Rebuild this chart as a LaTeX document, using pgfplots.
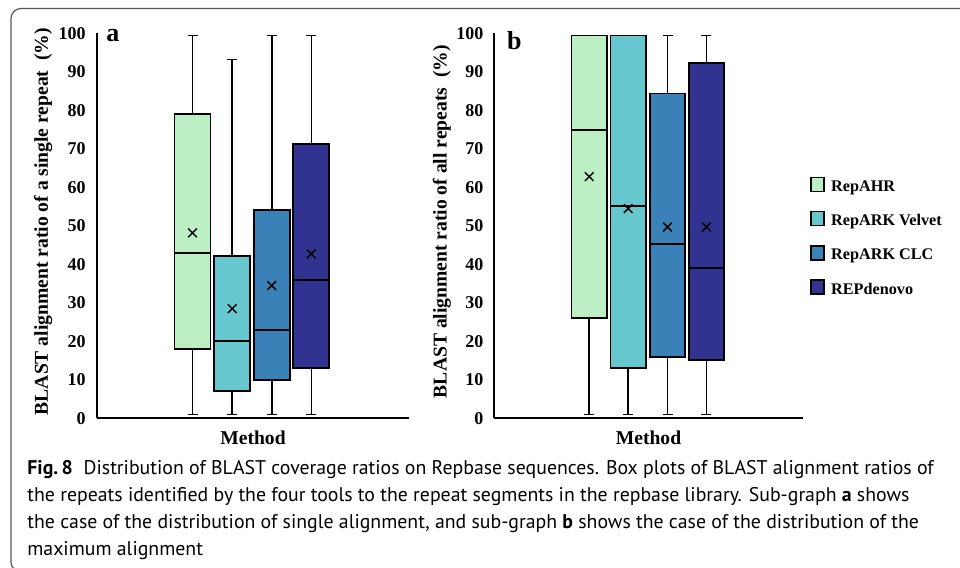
\documentclass[border=0pt]{standalone}
\usepackage{fontspec}
\setmainfont{Liberation Serif}
\newfontfamily\capfont{PT Sans}
\usepackage{pgfplots}
\pgfplotsset{compat=1.18}
\definecolor{cahr}{HTML}{BCF0C4}
\definecolor{cvel}{HTML}{66C8CE}
\definecolor{cclc}{HTML}{3A81B8}
\definecolor{cden}{HTML}{323291}

\pgfplotsset{
  boxpanel/.style={
    scale only axis, height=192.4pt, ymin=0, ymax=100,
    axis x line*=bottom, axis y line*=left,
    axis line style={line width=1pt, black},
    xtick=\empty, ytick={0,10,...,100}, major tick length=0pt,
    /pgf/number format/assume math mode=true,
    tick label style={font=\bfseries\fontsize{9}{9}\selectfont},
    yticklabel style={anchor=east, inner sep=0pt, xshift=-5.3pt},
    label style={font=\bfseries\fontsize{9.8}{10}\selectfont},
    xlabel style={at={(axis description cs:0.5,0)}, anchor=base, yshift=-13.3pt, inner sep=0pt},
    ylabel style={anchor=center, inner sep=0pt},
    xlabel={Method},
    clip=false,
  },
  box/.style={fill=#1, draw=black, line width=0.9pt, forget plot},
  wsk/.style={draw=black, line width=0.8pt, unbounded coords=jump, forget plot},
  med/.style={draw=black, line width=1pt, unbounded coords=jump, forget plot},
  avg/.style={only marks, mark=x, mark size=3.1pt, black, mark options={line width=0.75pt}, forget plot},
}

% page is 480pt x 284pt; one pixel of the 960x568 reference is 0.5pt
\begin{document}
\begin{tikzpicture}
\useasboundingbox (0,0) rectangle (480pt,284pt);
\draw[line width=0.6pt, black!65, rounded corners=5pt] (500pt,279.75pt) -- (5.5pt,279.75pt) -- (5.5pt,-2pt) -- (500pt,-2pt);

% panel a: single alignment (x in reference pixels, boxes 36 wide)
\begin{axis}[boxpanel, at={(48.35pt,74.85pt)}, anchor=south west,
  width=156.3pt, xmin=96.7, xmax=409.3,
  ylabel={BLAST alignment ratio of a single repeat\ \ (\%)},
  ylabel style={at={(axis description cs:-0.171,0.511)}}]
% whiskers and caps
\addplot[wsk] table {
x y
192.5 79
192.5 99.5
nan nan
187.5 99.5
197.5 99.5
nan nan
192.5 18
192.5 1
nan nan
187.5 1
197.5 1
nan nan
232.2 42.2
232.2 93.2
nan nan
227.2 93.2
237.2 93.2
nan nan
232.2 7
232.2 1
nan nan
227.2 1
237.2 1
nan nan
271.7 54.2
271.7 99.5
nan nan
266.7 99.5
276.7 99.5
nan nan
271.7 10
271.7 1
nan nan
266.7 1
276.7 1
nan nan
311.3 71.2
311.3 99.5
nan nan
306.3 99.5
316.3 99.5
nan nan
311.3 13
311.3 1
nan nan
306.3 1
316.3 1
};
% boxes: lower quartile to upper quartile
\addplot[box=cahr] coordinates {(174.5,18) (210.5,18) (210.5,79) (174.5,79)} -- cycle;
\addplot[box=cvel] coordinates {(214.2,7) (250.2,7) (250.2,42.2) (214.2,42.2)} -- cycle;
\addplot[box=cclc] coordinates {(253.7,10) (289.7,10) (289.7,54.2) (253.7,54.2)} -- cycle;
\addplot[box=cden] coordinates {(293.3,13) (329.3,13) (329.3,71.2) (293.3,71.2)} -- cycle;
% medians
\addplot[med] table {
x y
174.5 43
210.5 43
nan nan
214.2 20
250.2 20
nan nan
253.7 23
289.7 23
nan nan
293.3 36
329.3 36
};
% means
\addplot[avg] coordinates {(192.5,48.2) (232.2,28.5) (271.7,34.5) (311.3,42.7)};
\node[anchor=base west, inner sep=0pt, font=\bfseries\fontsize{13}{13}\selectfont] at (axis cs:106,97.9) {a};
\end{axis}

% panel b: maximum alignment
\begin{axis}[boxpanel, at={(247.15pt,74.85pt)}, anchor=south west,
  width=154.2pt, xmin=494.3, xmax=802.7,
  ylabel={BLAST alignment ratio of all repeats\ \ (\%)},
  ylabel style={at={(axis description cs:-0.170,0.511)}},
  legend image code/.code={\draw[draw=black, line width=0.8pt, #1] (0pt,0pt) rectangle (6.3pt,7pt);},
  legend style={at={(axis description cs:1.0237,0.629)}, anchor=north west,
    draw=none, fill=none, inner sep=0pt, row sep=8.2pt,
    /tikz/every odd column/.append style={column sep=3.3pt},
    nodes={inner sep=0pt, text height=6pt, text depth=1.5pt, anchor=base west,
      font=\bfseries\fontsize{8.1}{8.1}\selectfont}}]
\addlegendimage{fill=cahr}
\addlegendimage{fill=cvel}
\addlegendimage{fill=cclc}
\addlegendimage{fill=cden}
\addplot[wsk] table {
x y
589.2 26
589.2 1
nan nan
584.2 1
594.2 1
nan nan
628.2 13.1
628.2 1
nan nan
623.2 1
633.2 1
nan nan
667.5 84.4
667.5 99.5
nan nan
662.5 99.5
672.5 99.5
nan nan
667.5 16
667.5 1
nan nan
662.5 1
672.5 1
nan nan
706.4 92.4
706.4 99.5
nan nan
701.4 99.5
711.4 99.5
nan nan
706.4 15.1
706.4 1
nan nan
701.4 1
711.4 1
};
\addplot[box=cahr] coordinates {(571.4,26) (607.0,26) (607.0,99.5) (571.4,99.5)} -- cycle;
\addplot[box=cvel] coordinates {(610.4,13.1) (646.0,13.1) (646.0,99.5) (610.4,99.5)} -- cycle;
\addplot[box=cclc] coordinates {(649.7,16) (685.3,16) (685.3,84.4) (649.7,84.4)} -- cycle;
\addplot[box=cden] coordinates {(688.6,15.1) (724.2,15.1) (724.2,92.4) (688.6,92.4)} -- cycle;
\addplot[med] table {
x y
571.4 75
607.0 75
nan nan
610.4 55.2
646.0 55.2
nan nan
649.7 45.2
685.3 45.2
nan nan
688.6 39.1
724.2 39.1
};
\addplot[avg] coordinates {(589.2,62.8) (628.2,54.5) (667.5,49.7) (706.4,49.7)};
\legend{RepAHR, RepARK Velvet, RepARK CLC, REPdenovo}
\node[anchor=base west, inner sep=0pt, font=\bfseries\fontsize{13}{13}\selectfont] at (axis cs:506.7,95.9) {b};
\end{axis}

% caption
\begin{scope}[every node/.style={anchor=base west, inner sep=0pt, font=\capfont\fontsize{9.9}{9.9}\selectfont}]
\node at (13.5pt,46.75pt) {\textbf{Fig.\,8}\hspace{0.55em}Distribution of BLAST coverage ratios on Repbase sequences. Box plots of BLAST alignment ratios of};
\node at (13.5pt,33.25pt) {the repeats identified by the four tools to the repeat segments in the repbase library. Sub-graph \textbf{a} shows};
\node at (13.5pt,19.75pt) {the case of the distribution of single alignment, and sub-graph \textbf{b} shows the case of the distribution of the};
\node at (13.5pt,6.25pt) {maximum alignment};
\end{scope}
\end{tikzpicture}
\end{document}
